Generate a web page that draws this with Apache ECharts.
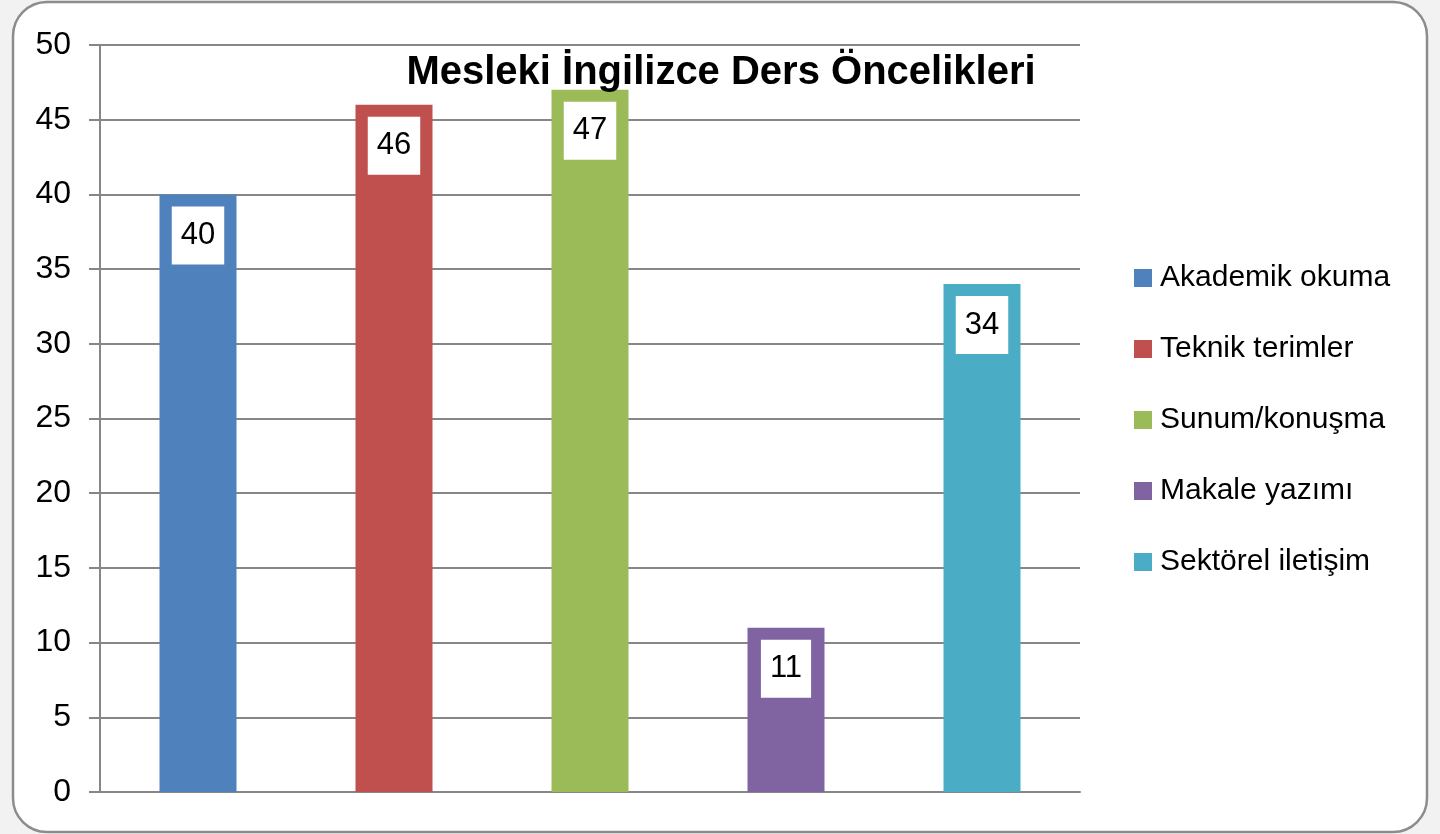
<!DOCTYPE html>
<html>
<head>
<meta charset="utf-8">
<script src="https://cdn.jsdelivr.net/npm/echarts@6/dist/echarts.min.js"></script>
<style>
html,body{margin:0;padding:0;background:#f2f2f2;}
#chart{width:1440px;height:834px;}
</style>
</head>
<body>
<div id="chart"></div>
<script>
const titleText = 'Mesleki İngilizce Ders Öncelikleri';
const categories = ['Akademik okuma', 'Teknik terimler', 'Sunum/konuşma', 'Makale yazımı', 'Sektörel iletişim'];
const values = [40, 46, 47, 11, 34];
const colors = ['#4f81bd', '#c0504d', '#9bbb59', '#8064a2', '#4bacc6'];
const yTicks = [0, 5, 10, 15, 20, 25, 30, 35, 40, 45, 50];

const FONT = "'Liberation Sans', Arial, sans-serif";
const chart = echarts.init(document.getElementById('chart'), null, {renderer: 'canvas'});

const series = categories.map((name, i) => ({
  name: name,
  type: 'bar',
  barWidth: 77,
  barGap: '-100%',
  itemStyle: {color: colors[i]},
  data: categories.map((c, j) => (j === i ? values[i] : '-')),
  label: {
    show: true,
    position: 'insideTop',
    distance: 12,
    color: '#000',
    fontFamily: FONT,
    fontSize: 31,
    lineHeight: 30,
    backgroundColor: '#fff',
    padding: [14, 9]
  },
  emphasis: {disabled: true}
}));

chart.setOption({
  backgroundColor: 'transparent',
  animation: false,
  graphic: [{
    type: 'rect',
    z: -10,
    silent: true,
    shape: {x: 13, y: 2, width: 1414, height: 830, r: 34},
    style: {fill: '#ffffff', stroke: '#8c8c8c', lineWidth: 2.5}
  }],
  title: {
    text: titleText,
    left: 716,
    top: 48,
    textAlign: 'center',
    textStyle: {fontFamily: FONT, fontSize: 40, fontWeight: 'bold', color: '#000'}
  },
  legend: {
    orient: 'vertical',
    left: 1134,
    top: 263,
    padding: 0,
    itemWidth: 18,
    itemHeight: 18,
    itemGap: 41,
    icon: 'rect',
    data: categories,
    textStyle: {fontFamily: FONT, fontSize: 30, color: '#000', lineHeight: 30, padding: [0, 0, 0, 3]},
    selectedMode: false
  },
  grid: {left: 100, right: 360, top: 45, bottom: 42, containLabel: false},
  xAxis: {
    type: 'category',
    data: categories,
    axisLabel: {show: false},
    axisTick: {show: false},
    axisLine: {lineStyle: {color: '#868686', width: 2}}
  },
  yAxis: {
    type: 'value',
    min: yTicks[0],
    max: yTicks[yTicks.length - 1],
    interval: 5,
    axisLine: {show: true, lineStyle: {color: '#868686', width: 2}},
    axisTick: {show: true, length: 11, lineStyle: {color: '#868686', width: 2}},
    splitLine: {show: true, lineStyle: {color: '#868686', width: 2}},
    axisLabel: {fontFamily: FONT, fontSize: 32, color: '#000', margin: 29}
  },
  series: series
});
</script>
</body>
</html>
